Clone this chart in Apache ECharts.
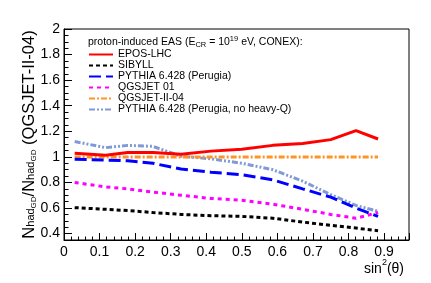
<!DOCTYPE html>
<html>
<head>
<meta charset="utf-8">
<script src="https://cdn.jsdelivr.net/npm/echarts@6/dist/echarts.min.js"></script>
<style>html,body{margin:0;padding:0;background:#fff}#c{width:431px;height:283px}</style>
</head>
<body>
<div id="c"></div>
<script>
// sin^2(theta) bin positions (theta = 10,20,25,...,70 deg)
const xValues = [0.030, 0.117, 0.179, 0.250, 0.329, 0.413, 0.500, 0.587, 0.671, 0.750, 0.821, 0.883];
const eposLHC   = [1.028, 1.013, 1.035, 1.034, 1.020, 1.045, 1.060, 1.090, 1.105, 1.135, 1.205, 1.140];
const sibyll    = [0.603, 0.590, 0.580, 0.565, 0.550, 0.540, 0.535, 0.520, 0.490, 0.465, 0.443, 0.423];
const pythia    = [0.982, 0.975, 0.970, 0.950, 0.905, 0.880, 0.860, 0.820, 0.750, 0.685, 0.600, 0.535];
const qgsjet01  = [0.800, 0.765, 0.750, 0.725, 0.700, 0.675, 0.660, 0.630, 0.590, 0.550, 0.520, 0.565];
const qgsjetII  = [1.000, 1.000, 1.000, 1.000, 1.000, 1.000, 1.000, 1.000, 1.000, 1.000, 1.000, 1.000];
const pythiaNoQ = [1.120, 1.072, 1.090, 1.082, 1.005, 0.985, 0.950, 0.900, 0.810, 0.705, 0.620, 0.575];
const seriesNames = ['EPOS-LHC', 'SIBYLL', 'PYTHIA 6.428 (Perugia)', 'QGSJET 01', 'QGSJET-II-04', 'PYTHIA 6.428 (Perugia, no heavy-Q)'];

const seriesValues = [eposLHC, sibyll, pythia, qgsjet01, qgsjetII, pythiaNoQ];
const colors = ['#ff0000', '#000000', '#0000ff', '#ff00ff', '#ff9326', '#7f9ad6'];
const dashes = ['solid', [4, 3], [12, 5], [4, 4], [6, 2, 2, 2], [6, 2, 2, 2, 2, 2]];

const chart = echarts.init(document.getElementById('c'), null, {renderer: 'canvas'});
const FONT = 'Liberation Sans, Arial, Helvetica, sans-serif';

const series = seriesNames.map((name, i) => ({
  name: name,
  type: 'line',
  symbol: 'none',
  z: 10 - i,
  data: xValues.map((x, j) => [x, seriesValues[i][j]]),
  lineStyle: {color: colors[i], width: 3, type: dashes[i], cap: 'butt'},
  itemStyle: {color: colors[i]}
}));

chart.setOption({
  animation: false,
  backgroundColor: '#fff',
  textStyle: {fontFamily: FONT},
  grid: {left: 64, top: 29, right: 22, bottom: 43, show: true, borderColor: '#000', borderWidth: 1, backgroundColor: 'transparent'},
  title: [
    {
      left: 83, top: 30,
      text: '{a|proton-induced EAS (E}{sub|CR}{a| = 10}{sup|19}{a| eV, CONEX):}',
      textStyle: {
        fontWeight: 'normal',
        rich: {
          a: {fontSize: 10.5, fontWeight: 'normal', fontFamily: FONT, color: '#000', lineHeight: 14, verticalAlign: 'middle'},
          sub: {fontSize: 7.5, fontWeight: 'normal', fontFamily: FONT, color: '#000', lineHeight: 8, padding: [8, 0, 0, 0], verticalAlign: 'bottom'},
          sup: {fontSize: 7.5, fontWeight: 'normal', fontFamily: FONT, color: '#000', lineHeight: 8, padding: [0, 0, 8, 0], verticalAlign: 'top'}
        }
      }
    },
    {
      right: 22, top: 255,
      text: '{a|sin}{sup|2}{a|(θ)}',
      textStyle: {
        fontWeight: 'normal',
        rich: {
          a: {fontSize: 14, fontWeight: 'normal', fontFamily: FONT, color: '#000', lineHeight: 16, verticalAlign: 'bottom'},
          sup: {fontSize: 9, fontWeight: 'normal', fontFamily: FONT, color: '#000', lineHeight: 9, padding: [0, 0, 9, 0], verticalAlign: 'bottom'}
        }
      }
    }
  ],
  legend: {
    orient: 'vertical',
    left: 83, top: 44,
    itemWidth: 24, itemHeight: 13.5, itemGap: 0,
    itemStyle: {opacity: 0},
    textStyle: {fontSize: 10.5, fontFamily: FONT, color: '#000'},
    data: seriesNames
  },
  xAxis: {
    type: 'value', min: 0, max: 0.97, interval: 0.1,
    axisLine: {show: true, onZero: false, lineStyle: {color: '#000', width: 1}},
    axisTick: {show: true, inside: true, length: 7, lineStyle: {color: '#000'}},
    minorTick: {show: true, splitNumber: 5, length: 3.5, lineStyle: {color: '#000'}},
    axisLabel: {fontSize: 14, fontFamily: FONT, color: '#000', margin: 5, showMaxLabel: false},
    splitLine: {show: false}
  },
  yAxis: {
    type: 'value', min: 0.35, max: 2, splitNumber: 8,
    name: '{n|N}{s|had}{ss|GD}{n|/N}{s|had}{ss|GD}{n| (QGSJET-II-04)}',
    nameLocation: 'middle', nameGap: 26, nameMoveOverlap: false,
    nameTextStyle: {
      rich: {
        n: {fontSize: 16.5, fontFamily: FONT, color: '#000', lineHeight: 17, verticalAlign: 'top', padding: [0, 0, 6, 0]},
        s: {fontSize: 11, fontFamily: FONT, color: '#000', lineHeight: 11, verticalAlign: 'bottom', padding: [0, 0, 2, 0]},
        ss: {fontSize: 8, fontFamily: FONT, color: '#000', lineHeight: 8, verticalAlign: 'bottom', padding: [0, 0, 0, 0]}
      }
    },
    axisLine: {show: true, onZero: false, lineStyle: {color: '#000', width: 1}},
    axisTick: {show: true, inside: true, length: 8, lineStyle: {color: '#000'}},
    minorTick: {show: true, splitNumber: 4, length: 4.5, lineStyle: {color: '#000'}},
    axisLabel: {fontSize: 14, fontFamily: FONT, color: '#000', margin: 4, showMinLabel: false},
    splitLine: {show: false}
  },
  series: series
});
</script>
</body>
</html>
